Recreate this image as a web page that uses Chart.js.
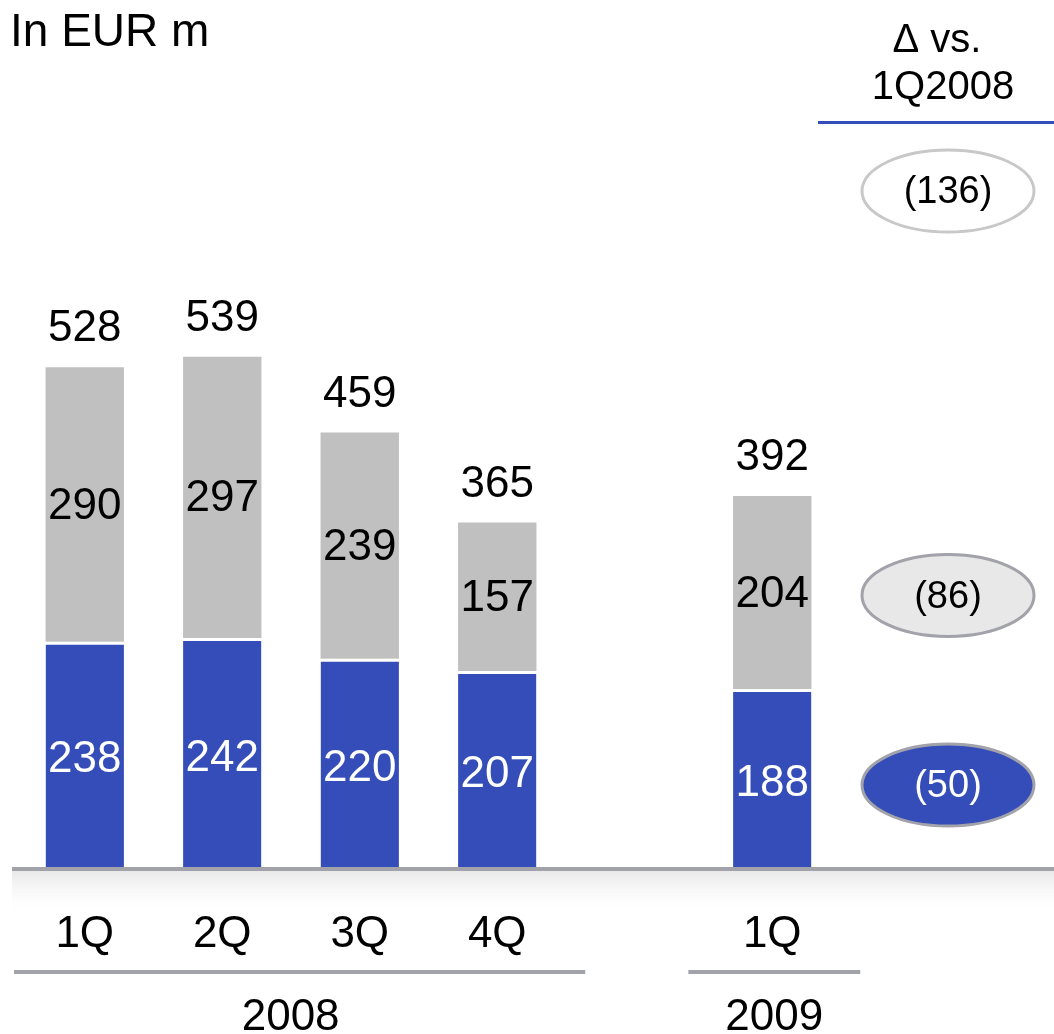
<!DOCTYPE html>
<html>
<head>
<meta charset="utf-8">
<script src="https://cdn.jsdelivr.net/npm/chart.js@4.4.1/dist/chart.umd.min.js"></script>
<style>
  html, body { margin: 0; padding: 0; background: #fff; }
  #wrap { position: relative; width: 1054px; height: 1034px; }
</style>
</head>
<body>
<div id="wrap"><canvas id="cvs"></canvas></div>
<script>
//-------------------------------------------------------------------
// data
//-------------------------------------------------------------------
const quarterLabels = ['1Q', '2Q', '3Q', '4Q', '', '1Q'];
const blueValues = [238, 242, 220, 207, null, 188];
const grayValues = [290, 297, 239, 157, null, 204];
const totalValues = [528, 539, 459, 365, null, 392];
const deltaValues = [-136, -86, -50];   // total, grey, blue vs. 1Q2008
const yearGroups = [
  { label: '2008', from: 0, to: 3 },
  { label: '2009', from: 5, to: 5 }
];
const unitLabel = 'In EUR m';
const deltaHeader = ['\u0394 vs.', '1Q2008'];

const BLUE = '#344DB8';
const GRAY = '#C0C0C0';
const FONT = '"Liberation Sans", Arial, sans-serif';

function fmtDelta(v) {
  return v < 0 ? '(' + Math.abs(v) + ')' : String(v);
}

//-------------------------------------------------------------------
// plugins
//-------------------------------------------------------------------
const decorPlugin = {
  id: 'decor',
  beforeDatasetsDraw(chart) {
    const ctx = chart.ctx;
    const area = chart.chartArea;
    // grey band under the baseline
    const g = ctx.createLinearGradient(0, area.bottom, 0, area.bottom + 48);
    g.addColorStop(0, '#e4e4e4');
    g.addColorStop(1, 'rgba(255,255,255,0)');
    ctx.save();
    ctx.fillStyle = g;
    ctx.fillRect(12, area.bottom, chart.width - 12, 48);
    ctx.restore();
  },
  afterDatasetsDraw(chart) {
    const ctx = chart.ctx;
    const area = chart.chartArea;
    const x = chart.scales.x;
    const y = chart.scales.y;

    ctx.save();
    // baseline
    ctx.fillStyle = '#A2A2AA';
    ctx.fillRect(12, area.bottom, chart.width - 12, 4);

    // value labels
    ctx.font = '44px ' + FONT;
    ctx.textAlign = 'center';
    ctx.textBaseline = 'middle';
    for (let i = 0; i < quarterLabels.length; i++) {
      if (blueValues[i] == null) continue;
      const px = x.getPixelForValue(i);
      const b = blueValues[i], gr = grayValues[i];
      ctx.fillStyle = '#fff';
      ctx.fillText(String(b), px, y.getPixelForValue(b / 2) + 6);
      ctx.fillStyle = '#000';
      ctx.fillText(String(gr), px, y.getPixelForValue(b + gr / 2) + 2);
      ctx.fillText(String(totalValues[i]), px, y.getPixelForValue(b + gr) - 38);
    }

    // group lines + year labels
    const lineY = area.bottom + 103;
    const slot = x.getPixelForValue(1) - x.getPixelForValue(0);
    yearGroups.forEach((grp) => {
      let x0 = x.getPixelForValue(grp.from) - slot * 0.61;
      let x1 = x.getPixelForValue(grp.to) + slot * 0.64;
      if (grp.from === 0) x0 = 14;
      ctx.fillStyle = '#A2A2AA';
      ctx.fillRect(x0, lineY, x1 - x0, 4);
      ctx.fillStyle = '#000';
      ctx.fillText(grp.label, (x0 + x1) / 2 + (grp.from === 0 ? -9 : 0), lineY + 48);
    });

    // header texts
    ctx.font = '46px ' + FONT;
    ctx.textAlign = 'left';
    ctx.fillText(unitLabel, 10, 33);
    ctx.textAlign = 'center';
    ctx.font = '40px ' + FONT;
    ctx.fillText(deltaHeader[0], 937, 41);
    ctx.fillText(deltaHeader[1], 943, 88);
    ctx.fillStyle = BLUE;
    ctx.fillRect(818, 121, chart.width - 818, 3);

    // delta ellipses
    const last = quarterLabels.length - 1;
    const ex = 948;
    const ells = [
      { v: deltaValues[0], cy: 191, fill: '#fff', stroke: '#C8C8C8', text: '#000' },
      { v: deltaValues[1], cy: y.getPixelForValue(blueValues[last] + grayValues[last] / 2) + 3, fill: '#E8E8E8', stroke: '#A2A2AA', text: '#000' },
      { v: deltaValues[2], cy: y.getPixelForValue(blueValues[last] / 2) + 7, fill: BLUE, stroke: '#A2A2AA', text: '#fff' }
    ];
    ctx.font = '38px ' + FONT;
    ells.forEach((e) => {
      ctx.beginPath();
      ctx.ellipse(ex, e.cy, 86, 41, 0, 0, Math.PI * 2);
      ctx.fillStyle = e.fill;
      ctx.fill();
      ctx.lineWidth = 3;
      ctx.strokeStyle = e.stroke;
      ctx.stroke();
      ctx.fillStyle = e.text;
      ctx.fillText(fmtDelta(e.v), ex, e.cy + 2);
    });
    ctx.restore();
  }
};

//-------------------------------------------------------------------
// chart
//-------------------------------------------------------------------
const ctx = document.getElementById('cvs').getContext('2d');
new Chart(ctx, {
  type: 'bar',
  data: {
    labels: quarterLabels,
    datasets: [
      {
        data: blueValues,
        backgroundColor: BLUE,
        borderColor: '#fff',
        borderWidth: { top: 3, left: 0, right: 0, bottom: 0 },
        borderSkipped: false,
        categoryPercentage: 1,
        barPercentage: 0.57
      },
      {
        data: grayValues,
        backgroundColor: GRAY,
        borderWidth: 0,
        categoryPercentage: 1,
        barPercentage: 0.57
      }
    ]
  },
  options: {
    responsive: true,
    maintainAspectRatio: false,
    animation: false,
    layout: { padding: { left: 16, right: 213, top: 15, bottom: 0 } },
    plugins: { legend: { display: false }, tooltip: { enabled: false } },
    scales: {
      x: {
        stacked: true,
        grid: { display: false, drawTicks: false },
        border: { display: false },
        ticks: {
          color: '#000',
          padding: 46,
          font: { family: FONT, size: 44, lineHeight: 1 },
          maxRotation: 0,
          autoSkip: false
        },
        afterFit: (scale) => { scale.height = 167; }
      },
      y: {
        stacked: true,
        display: false,
        min: 0,
        max: 900
      }
    }
  },
  plugins: [decorPlugin]
});
</script>
</body>
</html>
